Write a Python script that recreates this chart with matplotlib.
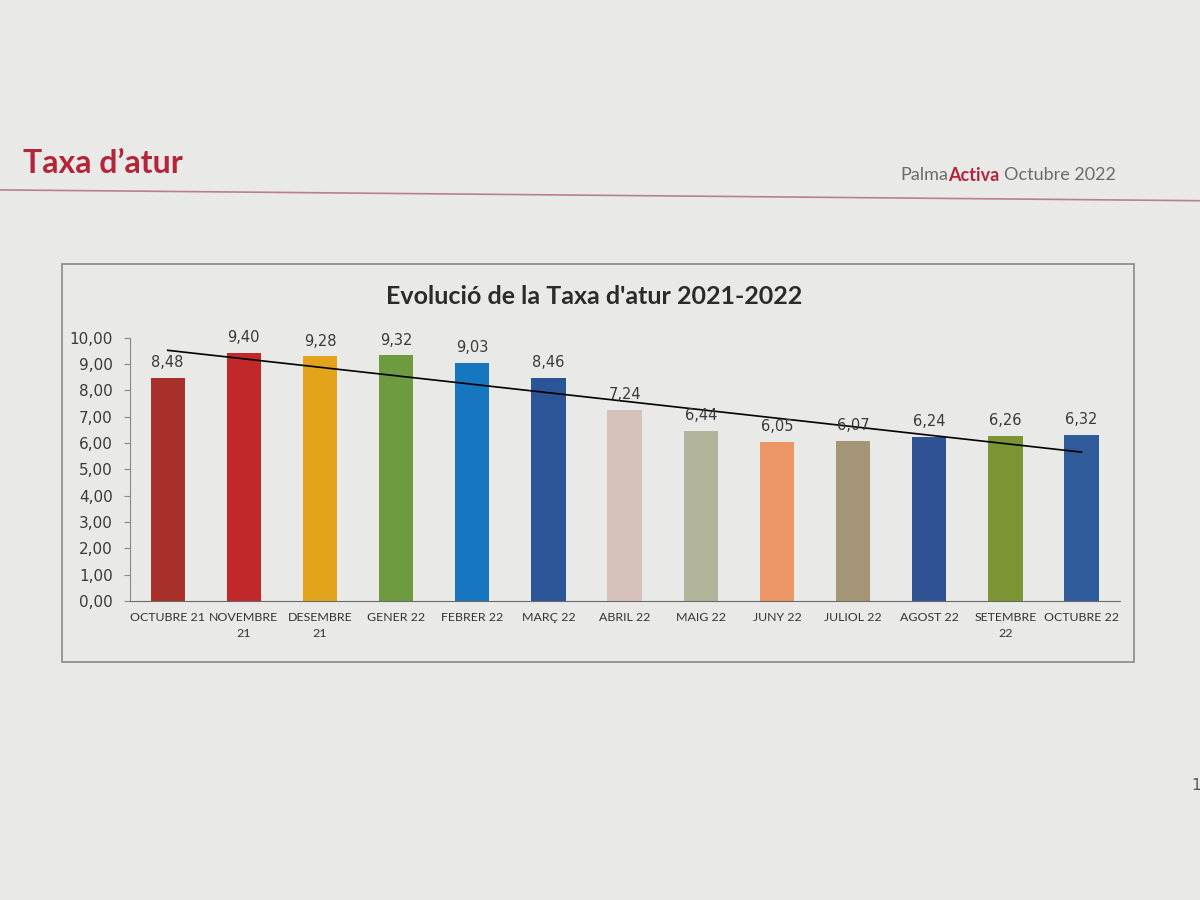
import matplotlib
matplotlib.use("Agg")

import numpy as np
import matplotlib.pyplot as plt
from matplotlib.patches import Rectangle
from matplotlib.lines import Line2D

# ------------------ DATA ------------------

months = ["OCTUBRE 21", "NOVEMBRE\n21", "DESEMBRE\n21", "GENER 22", "FEBRER 22",
          "MARÇ 22", "ABRIL 22", "MAIG 22", "JUNY 22", "JULIOL 22",
          "AGOST 22", "SETEMBRE\n22", "OCTUBRE 22"]
rates = [8.48, 9.40, 9.28, 9.32, 9.03, 8.46, 7.24, 6.44, 6.05, 6.07, 6.24, 6.26, 6.32]
bar_colors = ["#a8302b", "#c0282a", "#e3a41c", "#6e9a40", "#1677c0", "#2c5597",
              "#d6c2ba", "#b3b59a", "#eb9664", "#a39576", "#2e5294", "#7d9434",
              "#2f5b9a"]
y_ticks = [0, 1, 2, 3, 4, 5, 6, 7, 8, 9, 10]

PAGE = "#e9e9e7"
RED = "#b3263a"

# ------------------ PAGE ------------------

fig = plt.figure(figsize=(12, 9), dpi=100, facecolor=PAGE)

fig.text(0.019, 0.818, "Taxa d\u2019atur", fontsize=23, fontweight="bold",
         color=RED, family="Lato", va="center", ha="left")
fig.add_artist(Line2D([0.0, 1.0], [0.789, 0.777], color="#b98088", lw=1.2))

# right header: Palma / Activa / Octubre 2022
t1 = fig.text(0.750, 0.805, "Palma", fontsize=13, color="#6b6b6b",
              family="Lato", va="center", ha="left")
fig.canvas.draw()
r = fig.canvas.get_renderer()
bb = t1.get_window_extent(r).transformed(fig.transFigure.inverted())
t2 = fig.text(bb.x1, 0.805, "Activa", fontsize=13, color=RED, fontweight="bold",
              family="Lato", va="center", ha="left")
bb = t2.get_window_extent(r).transformed(fig.transFigure.inverted())
fig.text(bb.x1 + 0.004, 0.805, "Octubre 2022", fontsize=13, color="#6b6b6b",
         family="Lato", va="center", ha="left")

fig.text(0.993, 0.127, "1", fontsize=11, color="#555555", ha="left", va="center")

# chart frame
fig.add_artist(Rectangle((0.052, 0.265), 0.893, 0.442, transform=fig.transFigure,
                         fill=False, edgecolor="#8a8a8a", lw=1.2))

fig.text(0.495, 0.670, "Evolució de la Taxa d'atur 2021-2022", fontsize=18,
         fontweight="bold", color="#2b2b2b", family="Lato", ha="center", va="center")

# ------------------ CHART ------------------

ax = fig.add_axes([0.108, 0.332, 0.825, 0.293])
ax.set_facecolor(PAGE)

x = np.arange(len(months))
bars = ax.bar(x, rates, width=0.45, color=bar_colors)

for bar, v in zip(bars, rates):
    ax.text(bar.get_x() + bar.get_width() / 2, v + 0.3,
            f"{v:.2f}".replace(".", ","), ha="center", va="bottom",
            fontsize=10.5, color="#3a3a3a")

# linear trend line
k, b0 = np.polyfit(x, rates, 1)
ax.plot([x[0], x[-1]], [k * x[0] + b0, k * x[-1] + b0], color="black", lw=1.2)

ax.set_xlim(-0.5, len(months) - 0.5)
ax.set_ylim(0, 10)
ax.set_yticks(y_ticks)
ax.set_yticklabels([f"{t:.2f}".replace(".", ",") for t in y_ticks],
                   fontsize=11, color="#3a3a3a")
ax.set_xticks(x)
ax.set_xticklabels(months, fontsize=8.9, color="#333333", family="Lato",
                   linespacing=1.5)

for s in ["top", "right"]:
    ax.spines[s].set_visible(False)
ax.spines["left"].set_color("#8a8a8a")
ax.spines["bottom"].set_color("#6a6a6a")
ax.tick_params(axis="y", length=4, color="#8a8a8a", direction="out", pad=8)
ax.tick_params(axis="x", length=0, pad=8)

plt.savefig("out.png", dpi=100, facecolor=PAGE)
plt.close()
